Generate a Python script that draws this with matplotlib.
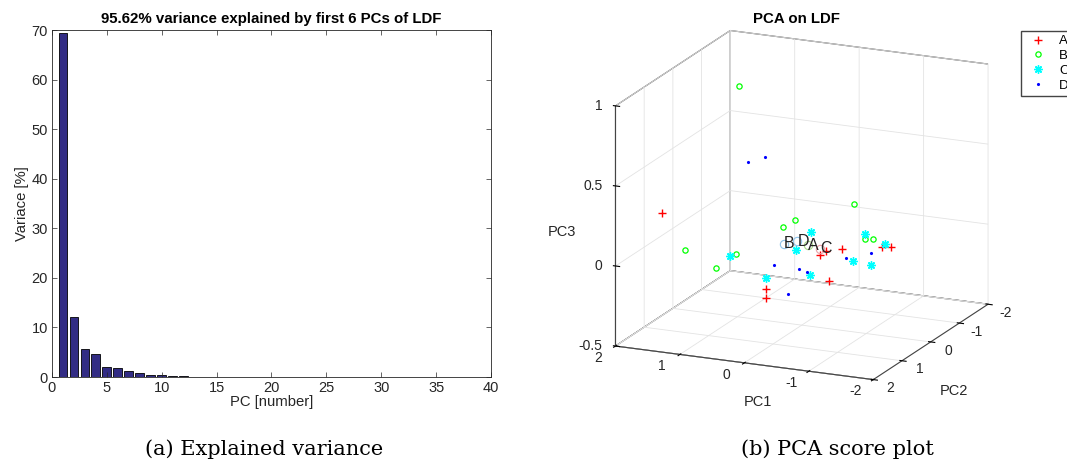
import numpy as np
import matplotlib
matplotlib.use('Agg')
import matplotlib.pyplot as plt

plt.rcParams['font.family'] = ['Liberation Sans', 'DejaVu Sans']
plt.rcParams['axes.unicode_minus'] = False

# explained variance per PC [%]
pc_num = [1, 2, 3, 4, 5, 6, 7, 8, 9, 10, 11, 12, 13, 14]
pc_var = [69.4, 12.2, 5.6, 4.6, 2.1, 1.72, 1.3, 0.85, 0.5, 0.45, 0.25, 0.2, 0.08, 0.05]

# PCA scores (PC1, PC2, PC3) per class
a_pc1 = [1.73, 0.42, 0.42, -0.33, -0.44, -0.28, -0.38, -0.89, -1.03]
a_pc2 = [1.0, 0.3, 0.3, -0.2, -0.4, 0.0, 0.0, -0.8, -0.8]
a_pc3 = [0.23, -0.26, -0.32, -0.23, -0.05, -0.05, -0.02, -0.06, -0.05]

b_pc1 = [0.88, 1.45, 1.11, 0.93, 0.16, 0.01, -0.37, -0.67, -0.70]
b_pc2 = [0.2, 0.8, 0.5, 0.2, 0.3, 0.2, -1.0, -0.7, -0.9]
b_pc3 = [0.97, -0.01, -0.14, -0.08, 0.14, 0.18, 0.16, -0.01, -0.03]

c_pc1 = [1.03, 0.42, -0.01, 0.05, -0.21, -0.57, -0.53, -0.94, -0.89]
c_pc2 = [0.2, 0.3, -0.3, 0.1, 0.2, -0.5, -1.0, -0.3, -0.9]
c_pc3 = [-0.10, -0.19, 0.05, -0.02, -0.15, -0.13, -0.02, -0.11, -0.05]

d_pc1 = [0.65, 0.48, 0.26, -0.05, 0.0, -0.13, -0.51, -0.81]
d_pc2 = [0.4, 0.2, 0.4, 0.6, 0.1, 0.1, -0.4, -0.6]
d_pc3 = [0.53, 0.55, -0.09, -0.23, -0.14, -0.15, -0.10, -0.08]

# class centroids + labels
cen_lab = ['B', 'D', 'A', 'C']
cen_pc1 = [0.28, 0.07, -0.09, -0.28]
cen_pc2 = [0.0, 0.0, 0.0, 0.0]
cen_pc3 = [-0.005, 0.02, 0.003, -0.008]
cen_col = ['#8fc3ea', '#8fc3ea', '#a8d98a', '#e8a0a8']

pc1_ticks = [2, 1, 0, -1, -2]
pc2_ticks = [2, 1, 0, -1, -2]
pc3_ticks = [-0.5, 0, 0.5, 1]
pc3_ticklabels = ['-0.5', '0', '0.5', '1']

txt_col = '#262626'

fig = plt.figure(figsize=(10.67, 4.65), dpi=100)

# ---- (a) explained variance
ax1 = fig.add_axes([0.0487, 0.1892, 0.4115, 0.7462])
ax1.bar(pc_num, pc_var, width=0.8, color='#322c84', edgecolor='black', linewidth=0.6)
ax1.set_xlim(0, 40)
ax1.set_ylim(0, 70)
ax1.set_xticks(range(0, 41, 5))
ax1.set_yticks(range(0, 71, 10))
ax1.tick_params(direction='in', length=3.5, width=0.5, colors=txt_col, labelsize=10.5,
                top=True, right=True, pad=3)
for s in ax1.spines.values():
    s.set_linewidth(0.6)
    s.set_color(txt_col)
ax1.set_xlabel('PC [number]', fontsize=10.7, color=txt_col, labelpad=0)
ax1.set_ylabel('Variace [%]', fontsize=10.7, color=txt_col, labelpad=2)
ax1.set_title('95.62% variance explained by first 6 PCs of LDF', fontsize=10.8,
              fontweight='bold', pad=5)

# ---- (b) PCA score plot
ax2 = fig.add_axes([0.496, 0.0866, 0.50, 0.92], projection='3d', proj_type='ortho')
ax2.plot(a_pc1, a_pc2, a_pc3, '+', color='red', ms=6, mew=1.0, label='A')
ax2.plot(b_pc1, b_pc2, b_pc3, 'o', color='#00ff00', mfc='none', ms=3.8, mew=0.9, label='B')
ax2.plot(c_pc1, c_pc2, c_pc3, marker=(8, 2, 0), ls='none', color='cyan', ms=6, mew=1.0, label='C')
ax2.plot(d_pc1, d_pc2, d_pc3, '.', color='blue', ms=2.5, label='D')
for i in range(len(cen_lab)):
    ax2.plot([cen_pc1[i]], [cen_pc2[i]], [cen_pc3[i]], 'o', mfc='none', mec=cen_col[i],
             ms=6, mew=0.8)
    ax2.text(cen_pc1[i], cen_pc2[i], cen_pc3[i], cen_lab[i], fontsize=11.5, color='#222222',
             ha='left', va='center')

ax2.set_xlim(2, -2)
ax2.set_ylim(2, -2)
ax2.set_zlim(-0.5, 1)
ax2.set_xticks(pc1_ticks)
ax2.set_yticks(pc2_ticks)
ax2.set_zticks(pc3_ticks)
# tick labels drawn by hand below, MATLAB style placement
ax2.set_xticklabels([''] * len(pc1_ticks))
ax2.set_yticklabels([''] * len(pc2_ticks))
ax2.set_zticklabels([''] * len(pc3_ticks))
ax2.set_box_aspect((1, 1, 0.89), zoom=1.07)
ax2.view_init(elev=17, azim=-66)
for axis in (ax2.xaxis, ax2.yaxis, ax2.zaxis):
    axis.set_pane_color((1, 1, 1, 1))
    axis.pane.set_edgecolor('#444444')
    axis.pane.set_linewidth(0.8)
    axis._axinfo['grid']['color'] = '#e3e3e3'
    axis._axinfo['grid']['linewidth'] = 0.6
    axis.line.set_color('#444444')
    axis.line.set_linewidth(0.8)
ax2.zaxis.set_ticks_position('upper')
ax2.zaxis.set_label_position('upper')
ax2.set_zlabel('PC3', fontsize=10.5, color=txt_col, labelpad=2)
ax2.set_title('PCA on LDF', fontsize=10.8, fontweight='bold', y=1.0)

for v in pc1_ticks:
    ax2.text(v, 2.62, -0.5, str(v), fontsize=10, color=txt_col, ha='center', va='center')
for v in pc2_ticks:
    ax2.text(-2.27, v, -0.54, str(v), fontsize=10, color=txt_col, ha='center', va='center')
for v, s in zip(pc3_ticks, pc3_ticklabels):
    ax2.text(2.17, 2.07, v, s, fontsize=10, color=txt_col, ha='right', va='center')
ax2.text(-0.65, 3.0, -0.59, 'PC1', fontsize=10.5, color=txt_col, ha='center', va='center')
ax2.text(-2.36, 0, -0.79, 'PC2', fontsize=10.5, color=txt_col, ha='center', va='center')

fig.legend(handles=ax2.get_lines()[:4], loc='upper left',
           bbox_to_anchor=(1021 / 1067, 1 - 31 / 465), fontsize=9.5, frameon=True,
           fancybox=False, edgecolor='#444444', framealpha=1, borderpad=0.3,
           borderaxespad=0, handlelength=2.0, handletextpad=0.6, labelspacing=0.2)

# captions
fig.text(0.248, 0.034, '(a) Explained variance', ha='center', va='center',
         fontsize=15, family='DejaVu Serif')
fig.text(0.785, 0.034, '(b) PCA score plot', ha='center', va='center',
         fontsize=15, family='DejaVu Serif')

fig.savefig('out.png', dpi=100)
